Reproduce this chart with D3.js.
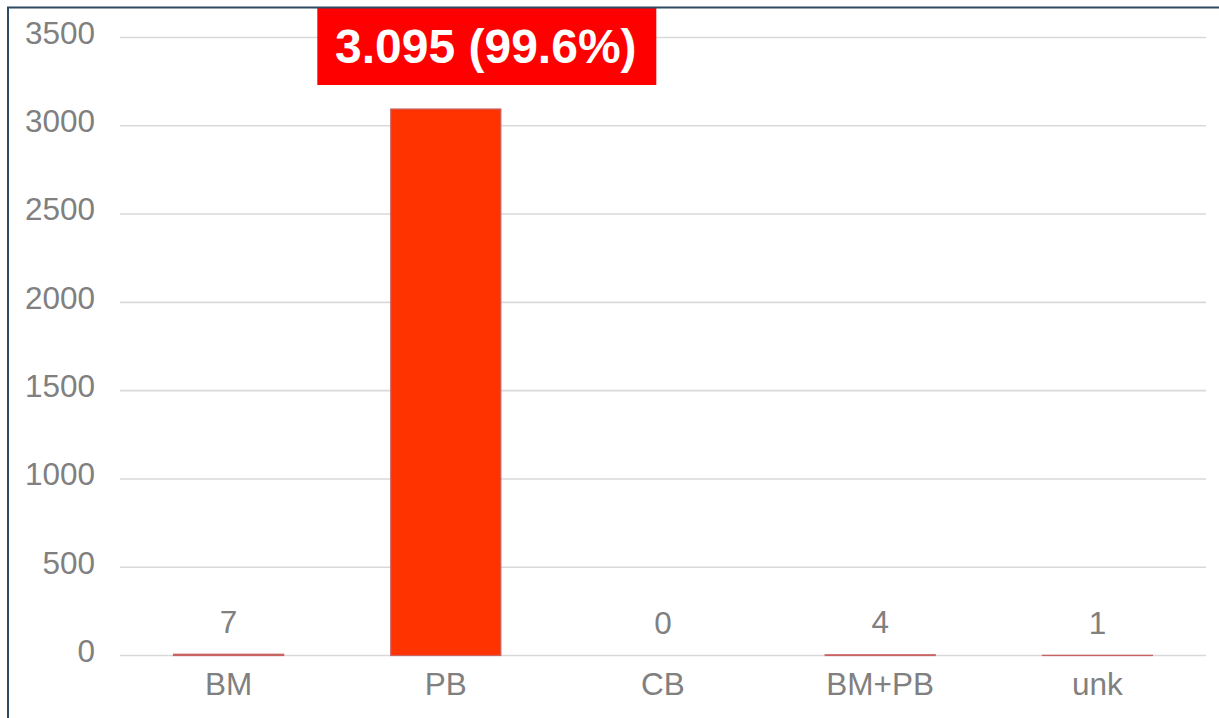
<!DOCTYPE html>
<html>
<head>
<meta charset="utf-8">
<script src="https://d3js.org/d3.v7.min.js"></script>
<style>
  html, body { margin: 0; padding: 0; background: #fff; }
  svg { display: block; }
</style>
</head>
<body>
<div id="chart"></div>
<script>
  // data
  var categories = ["BM", "PB", "CB", "BM+PB", "unk"];
  var counts = [7, 3095, 0, 4, 1];
  var yTicks = [0, 500, 1000, 1500, 2000, 2500, 3000, 3500];
  var callout = "3.095 (99.6%)";

  var width = 1219,
      height = 718;

  var margin = {top: 37.5, right: 13, bottom: 62.5, left: 120};

  var svg = d3.select("#chart")
      .append("svg")
      .attr("width", width)
      .attr("height", height);

  var x = d3.scaleBand()
      .domain(categories)
      .range([margin.left, width - margin.right])
      .paddingInner(0.493)
      .paddingOuter(0.2465);

  var y = d3.scaleLinear()
      .domain([0, 3500])
      .range([height - margin.bottom, margin.top]);

  var font = "'Liberation Sans', Arial, Helvetica, sans-serif";
  var grey = "#808080";
  var fs = 31.5;

  // gridlines
  svg.append("g")
      .selectAll("line")
      .data(yTicks)
      .enter().append("line")
      .attr("x1", margin.left)
      .attr("x2", width - margin.right)
      .attr("y1", function(d) { return y(d); })
      .attr("y2", function(d) { return y(d); })
      .attr("stroke", "#d9d9d9")
      .attr("stroke-width", 1.6);

  // y labels
  svg.append("g")
      .selectAll("text")
      .data(yTicks)
      .enter().append("text")
      .attr("x", 95)
      .attr("y", function(d) { return y(d) - 2; })
      .attr("text-anchor", "end")
      .attr("dominant-baseline", "middle")
      .attr("font-family", font)
      .attr("font-size", fs)
      .attr("fill", grey)
      .text(function(d) { return d; });

  // bars
  svg.append("g")
      .selectAll("rect")
      .data(counts)
      .enter().append("rect")
      .attr("x", function(d, i) { return x(categories[i]); })
      .attr("width", x.bandwidth())
      .attr("y", function(d) { return y(d); })
      .attr("height", function(d) { return y(0) - y(d); })
      .attr("fill", "#ff3300")
      .attr("stroke", function(d) { return d > 0 ? "#c86464" : "none"; })
      .attr("stroke-width", 1.2);

  // value labels (not on the big bar, it gets the red callout)
  svg.append("g")
      .selectAll("text")
      .data(counts.map(function(d, i) { return {cat: categories[i], v: d}; }))
      .enter()
      .filter(function(d) { return d.v < 1000; })
      .append("text")
      .attr("x", function(d) { return x(d.cat) + x.bandwidth() / 2; })
      .attr("y", function(d) { return y(d.v) - 30; })
      .attr("text-anchor", "middle")
      .attr("dominant-baseline", "middle")
      .attr("font-family", font)
      .attr("font-size", fs)
      .attr("fill", grey)
      .text(function(d) { return d.v; });

  // category labels
  svg.append("g")
      .selectAll("text")
      .data(categories)
      .enter().append("text")
      .attr("x", function(d) { return x(d) + x.bandwidth() / 2; })
      .attr("y", y(0) + 31)
      .attr("text-anchor", "middle")
      .attr("dominant-baseline", "middle")
      .attr("font-family", font)
      .attr("font-size", fs)
      .attr("fill", grey)
      .text(function(d) { return d; });

  // red callout for PB
  var cx = x("PB") + x.bandwidth() / 2 + 41;
  svg.append("rect")
      .attr("x", cx - 169.5)
      .attr("y", 8)
      .attr("width", 339)
      .attr("height", 77)
      .attr("fill", "#ff0000");

  svg.append("text")
      .attr("x", cx - 1)
      .attr("y", 50)
      .attr("text-anchor", "middle")
      .attr("dominant-baseline", "middle")
      .attr("font-family", font)
      .attr("font-weight", "bold")
      .attr("font-size", 48)
      .attr("fill", "#fff")
      .text(callout);

  // frame, only top and left edges show
  svg.append("path")
      .attr("d", "M8," + height + "V7.5H" + width)
      .attr("fill", "none")
      .attr("stroke", "#2f4a63")
      .attr("stroke-width", 2);
</script>
</body>
</html>
